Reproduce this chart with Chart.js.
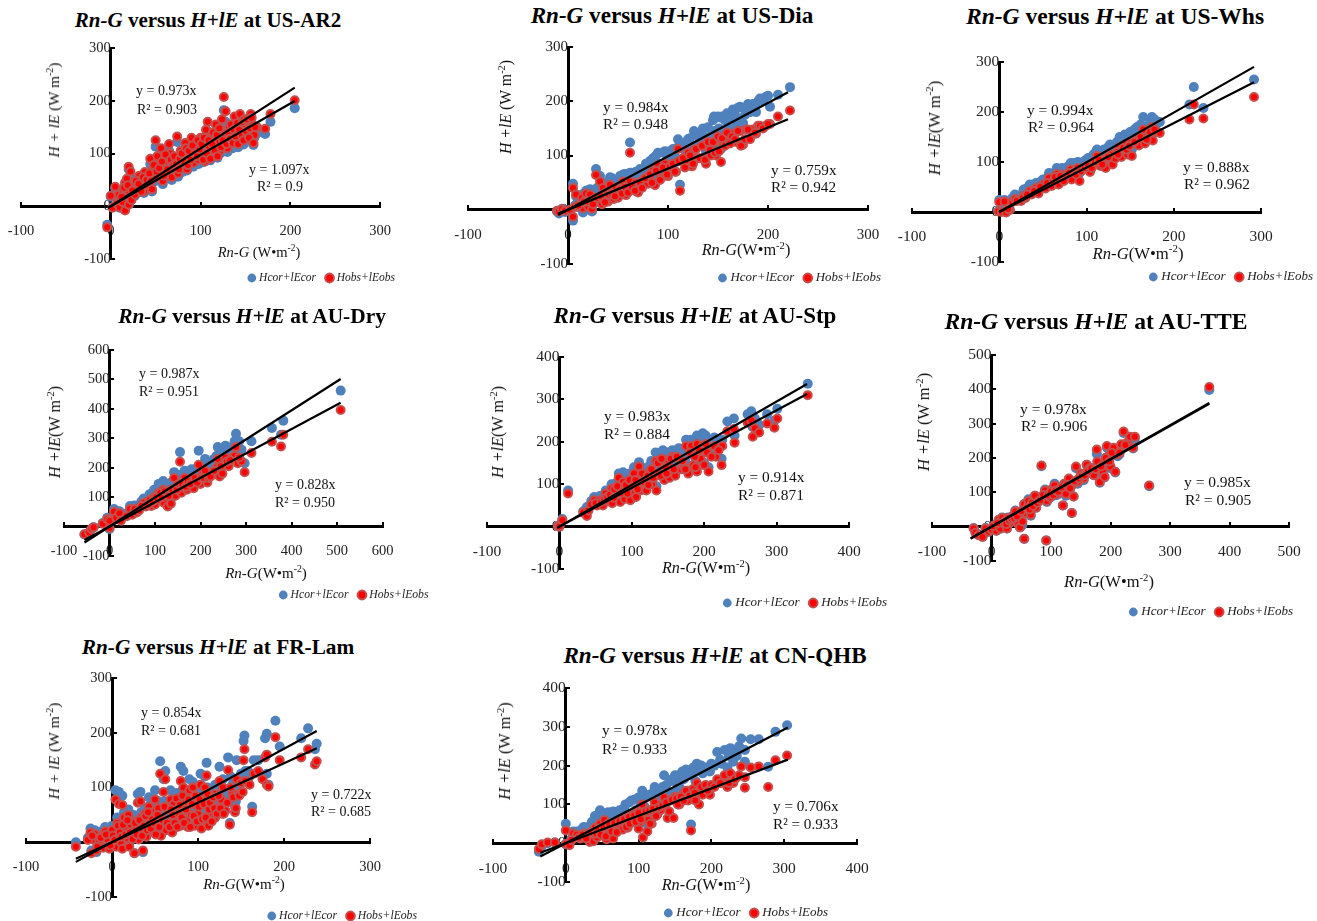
<!DOCTYPE html>
<html><head><meta charset="utf-8">
<script src="https://cdn.jsdelivr.net/npm/chart.js@4/dist/chart.umd.js"></script>
<style>
html,body{margin:0;padding:0;background:#fff;width:1317px;height:921px;overflow:hidden}
canvas{position:absolute;display:block}
.t{position:absolute;white-space:nowrap;font-family:"Liberation Serif",serif;color:#111;line-height:18px}
.title{font-weight:bold;color:#000;transform:translate(-50%,-50%);line-height:26px}
.ax{transform:translate(-50%,-50%)}
.ay{transform:translate(-50%,-50%) rotate(-90deg)}
.an{transform:translateY(-50%)}
sup{font-size:.65em;line-height:0}
</style></head><body>
<script>
const arX=[-4,0,2,5,7,9,10,13,14,16,16,18,20,20,20,22,23,25,27,30,32,35,37,38,42,44,46,47,50,50,52,53,56,58,60,62,65,66,68,72,74,75,78,80,83,85,88,90,92,95,98,100,102,105,106,108,110,112,115,117,120,122,124,126,128,127,130,132,135,138,140,144,145,150,153,156,158,160,163,172,178,205,
12,15,19,24,28,31,34,36,40,43,45,48,51,54,57,59,61,63,67,70,71,73,76,77,79,82,84,86,87,89,91,94,96,97,99,101,103,104,107,109,111,113,114,116,118,119,121,123,125,129,131,133,134,136,137,139,141,142,143,146,147,148,149,151,152,154,155,157,159,161];
const arCor=[-35,18,-2,34,4,20,-3,7,22,40,-6,48,70,27,4,60,12,40,20,31,52,42,25,58,33,80,28,62,113,48,85,70,100,42,75,54,105,90,50,75,122,56,92,65,106,68,84,118,75,105,80,116,90,85,130,142,100,115,95,138,107,100,150,182,160,120,103,133,112,150,125,155,117,135,127,158,140,130,138,137,160,186,
16,30,36,27,42,37,27,48,44,55,42,70,58,64,76,52,88,62,78,70,85,72,64,80,90,76,98,72,94,80,103,90,88,112,97,106,84,116,92,110,87,105,125,98,120,92,132,103,112,108,126,115,140,110,130,120,142,112,130,123,145,117,148,128,148,124,135,152,116,138];
const arObs=[-40,20,-3,37,5,22,-2,8,25,45,-8,52,75,30,3,66,12,44,22,35,58,48,28,65,40,90,32,70,125,55,95,78,110,48,85,62,118,100,55,85,132,62,105,72,120,70,95,130,82,120,88,130,100,85,145,160,112,130,98,155,120,105,165,207,180,135,110,150,125,170,140,175,128,150,140,175,155,135,150,147,175,201,
18,35,40,30,48,42,28,55,50,62,48,78,66,72,85,58,98,70,88,78,95,80,70,90,100,85,110,78,105,88,115,100,95,125,108,118,88,130,100,125,90,118,140,105,135,95,148,112,125,118,140,128,155,120,145,132,158,118,145,135,160,125,165,142,165,130,148,168,120,150];

const diaX=[-11,-9,-6,-3,2,5,5,7,8,10,12,14,15,18,20,22,24,26,28,30,32,34,35,38,40,42,46,48,50,55,58,62,62,66,68,70,75,78,80,85,87,90,93,97,100,103,108,110,112,113,118,120,124,126,130,135,138,142,146,148,152,153,155,160,165,168,172,175,178,185,188,190,198,202,210,222,
10,16,20,25,29,33,37,41,44,47,52,54,57,60,64,67,72,74,77,82,84,88,92,95,99,102,105,107,111,115,117,122,125,128,132,134,137,140,143,145,147,150,151,154,157,159,162,164,167,170,173,177,180,182,187,192,195,200];
const diaCor=[-3,-7,2,-4,-2,-20,48,8,25,5,12,28,-5,35,8,38,-3,30,75,22,62,12,50,45,20,60,28,55,30,65,35,124,68,50,70,40,72,85,60,95,62,105,72,108,82,100,88,130,46,115,100,130,98,145,120,150,108,135,172,120,170,112,140,150,185,155,190,160,185,195,180,200,208,190,212,226,
15,28,30,18,40,45,28,50,58,40,62,48,66,52,68,55,75,60,78,90,72,100,85,105,92,108,112,98,118,122,110,132,118,138,130,140,125,152,132,165,145,172,150,172,165,178,170,180,175,188,165,175,195,180,192,205,200,210];
const diaObs=[-2,-3,1,-2,0,-13,40,5,28,6,10,22,3,30,6,28,2,20,64,15,52,10,40,32,15,46,20,40,22,52,27,105,52,38,50,32,55,60,48,72,45,82,58,85,62,78,70,112,35,92,85,105,80,110,95,118,85,110,125,100,130,88,118,125,140,125,145,120,148,148,140,155,155,158,172,183,
8,15,15,10,22,25,14,28,30,25,38,30,42,32,42,35,50,40,58,65,50,72,55,78,65,80,85,70,90,95,78,100,85,112,95,118,92,125,100,125,105,135,108,132,118,142,122,135,130,145,118,130,148,130,142,155,150,158];

const whsX=[-1,0,3,6,8,12,15,18,22,25,28,30,35,37,42,45,50,53,57,60,66,68,72,76,82,83,90,92,96,100,104,108,112,116,120,122,127,130,133,138,140,144,147,150,152,158,160,165,167,171,175,176,180,184,218,223,234,292,
10,20,27,32,40,47,55,62,64,70,74,78,80,86,88,94,98,102,106,110,114,118,124,125,135,136,142,146,149,155,162,169,173,178];
const whsCor=[2,24,3,24,1,5,28,35,30,30,45,35,55,40,58,45,65,55,78,60,88,68,88,78,98,80,100,78,100,105,90,115,125,105,125,105,135,115,120,150,125,155,130,160,125,170,150,190,155,170,190,158,175,180,215,250,208,265,
8,30,38,48,50,60,68,75,80,85,82,90,92,98,95,98,102,108,105,118,120,118,125,130,140,138,150,150,155,165,175,170,180,185];
const whsObs=[1,20,0,21,-1,4,20,26,24,22,32,28,42,35,48,37,55,47,68,52,76,55,75,68,85,65,88,62,85,92,80,100,112,92,105,88,115,95,107,130,110,135,115,138,112,145,133,165,137,152,170,143,160,158,185,215,187,230,
6,22,28,35,42,50,58,62,70,72,62,75,78,80,75,82,88,92,88,100,105,95,108,110,120,115,128,125,132,140,150,145,160,165];

const dryX=[-55,-45,-40,-35,-15,-5,0,0,10,15,22,25,38,45,50,55,60,75,80,88,92,98,100,108,110,118,120,125,128,135,135,142,145,150,155,158,165,170,175,180,185,190,196,200,205,210,215,225,235,238,242,250,255,262,270,275,278,282,290,297,312,357,377,382,508,
65,70,85,95,103,112,115,122,130,138,148,153,160,168,172,178,188,193,202,208,218,222,230,245,248,258,265,285];
const dryCor=[-27,-20,-10,-2,12,30,-8,22,60,35,52,25,45,70,45,72,55,95,75,110,80,125,85,145,100,155,90,135,85,150,95,185,125,165,253,140,190,135,170,195,150,180,258,165,205,230,170,210,240,270,185,230,275,225,270,290,315,240,262,215,290,335,312,360,462,
70,85,95,105,125,140,120,145,130,150,150,175,170,160,180,170,195,175,190,195,200,205,230,245,210,255,250,290];
const dryObs=[-26,-20,-8,-3,10,25,-5,20,50,30,45,20,35,60,40,60,48,80,68,90,70,100,75,115,90,125,80,115,68,125,78,165,105,140,220,115,165,125,150,165,130,155,210,145,185,190,150,175,200,230,170,205,235,205,235,240,270,215,222,185,250,288,272,312,396,
55,70,75,85,100,115,100,120,105,125,125,145,145,135,155,145,165,150,165,165,165,170,190,205,180,220,225,235];

const stpX=[-2,0,4,12,33,38,40,48,52,56,60,64,68,72,73,78,82,84,88,90,95,98,100,103,106,110,112,118,120,125,128,133,134,138,143,145,150,152,156,160,165,168,172,175,178,182,185,190,190,195,198,200,204,206,214,216,224,225,232,241,242,260,265,267,270,276,287,297,301,343,
44,50,58,62,66,70,75,76,80,86,92,94,97,102,105,108,114,116,122,123,127,130,136,140,141,147,148,154,158,162,170,174,180,187,188,193,202,210,220];
const stpCor=[2,0,18,85,36,46,38,70,58,72,55,85,70,100,62,90,125,65,128,80,115,75,100,140,85,152,110,130,100,145,115,175,95,150,180,125,175,135,180,125,185,150,160,205,135,205,170,215,140,180,220,150,205,140,210,175,160,205,248,255,215,265,272,235,255,240,265,250,278,337,
60,62,65,75,78,85,80,100,105,95,115,90,125,110,125,100,140,120,135,110,155,130,170,135,175,160,140,175,150,180,175,155,195,190,150,205,215,180,195];
const stpObs=[1,0,15,78,33,25,38,62,50,62,50,78,60,90,55,75,115,58,105,65,95,62,85,125,70,142,85,120,85,130,100,155,85,125,158,110,150,115,165,120,160,135,140,190,125,190,145,195,130,160,190,145,175,130,190,165,145,190,225,230,198,245,250,212,232,222,243,233,255,310,
52,55,58,65,70,75,68,88,95,80,98,78,110,95,110,88,125,105,120,98,135,115,150,120,160,140,125,160,135,165,155,135,175,165,140,180,195,165,180];

const tteX=[-30,-27,-22,-15,-10,-5,0,5,8,12,15,18,20,26,28,32,36,40,45,48,48,52,55,55,58,62,66,68,73,75,80,84,90,92,93,98,102,106,110,115,120,122,125,130,135,135,138,142,145,150,155,160,165,172,177,180,182,187,190,194,196,200,205,208,212,218,222,228,233,238,241,265,366,
3,10,22,25,30,34,38,43,50,60,64,70,77,82,87,95,100,104,108,112,118,127,132,140,147,152,157,162,168,175,178,184,192,198,202,215,225];
const tteCor=[-4,-18,-22,-29,-4,-15,-6,4,-12,18,-6,27,8,-5,27,14,32,47,10,33,-2,5,-36,66,38,80,32,72,90,55,78,176,108,-40,72,84,108,125,92,112,62,120,90,138,40,122,88,170,125,150,135,180,165,150,212,180,128,155,143,230,200,170,225,158,205,235,273,240,258,228,255,118,398,
2,10,15,8,20,22,25,30,45,55,50,60,70,80,90,95,100,90,105,100,115,120,110,130,140,145,150,160,170,165,190,170,200,185,210,210,235];
const tteObs=[-5,-18,-25,-30,-5,-15,-8,3,-12,20,-5,25,10,-5,25,12,30,45,8,35,-2,15,-35,65,40,75,35,70,90,55,75,178,105,-40,75,85,110,120,95,110,62,125,95,140,40,120,88,175,130,155,140,180,170,150,225,185,130,160,145,235,205,175,230,160,210,240,277,245,262,230,262,120,407,
2,10,15,8,18,22,25,30,45,55,50,60,70,78,92,92,102,92,105,102,115,122,112,132,140,148,150,162,170,168,190,175,200,190,215,215,238];

const lamX=[-42,-25,-24,-22,-20,-18,-15,-12,-10,-8,-5,-3,0,2,4,5,6,8,8,10,12,12,14,15,17,19,20,22,23,25,26,28,30,31,33,34,36,36,38,40,43,44,46,48,50,52,54,56,57,58,60,62,63,65,66,68,70,72,74,77,80,80,83,85,87,88,90,92,94,96,98,100,103,104,106,108,110,112,115,117,120,120,123,125,127,128,132,135,137,140,143,145,147,150,153,154,158,163,165,170,175,178,180,180,182,190,195,220,228,236,238,
-28,-23,-17,-13,-7,-2,1,3,7,9,11,13,16,18,21,24,27,29,32,35,37,39,41,42,45,47,49,51,53,55,59,61,64,67,69,71,73,75,76,78,79,81,82,84,86,89,91,93,95,97,99,101,102,105,107,109,111,113,114,116,118,119,122,124,126,129,130,134,138,141,144,148,152,155,160];
const lamCor=[0,25,-15,10,22,-18,5,20,-5,28,10,-8,30,15,95,-5,45,92,25,5,85,-10,55,35,15,60,-5,40,20,50,-20,35,88,10,92,55,30,-18,60,15,82,45,25,65,95,38,75,148,20,55,115,130,30,70,45,95,25,85,55,70,138,40,130,85,50,32,115,65,110,40,80,60,125,30,95,120,145,35,75,60,105,50,75,138,95,55,75,155,35,105,65,150,110,125,185,195,130,65,150,150,120,190,198,125,105,222,175,190,208,170,180,
8,18,-6,12,20,-2,18,8,38,25,15,42,20,48,25,10,42,20,48,18,38,55,28,65,30,50,42,20,60,35,48,75,42,35,70,60,45,90,35,62,78,55,95,42,70,90,35,80,55,100,45,75,90,50,80,55,100,70,85,45,95,72,60,100,75,115,60,85,120,95,75,100,110,130,120];
const lamObs=[-8,18,-20,5,15,-15,0,12,-10,20,5,-12,22,10,78,-8,35,70,18,0,68,-12,45,28,8,50,-8,32,15,38,-20,28,72,5,75,45,22,-15,52,10,65,35,20,55,78,30,62,125,12,45,92,115,22,60,35,78,18,70,42,58,112,30,100,72,40,28,95,50,100,30,68,52,105,25,82,100,122,30,62,50,88,45,62,112,78,52,58,132,32,88,55,115,88,108,150,170,110,55,125,130,115,155,160,105,102,192,150,155,170,142,148,
4,12,-8,8,14,-6,12,4,30,18,10,32,14,40,18,6,35,14,40,12,30,48,22,55,25,42,35,14,50,28,40,65,35,28,60,50,35,80,28,52,68,45,85,35,60,78,28,70,48,85,38,65,78,42,70,45,88,60,72,38,82,62,52,85,62,100,52,72,100,82,62,85,92,112,105];

const qhbX=[-37,-33,-25,-15,0,0,5,10,15,20,25,30,33,36,38,40,43,47,50,53,56,58,62,65,68,72,76,78,82,85,90,92,98,100,102,105,106,108,112,113,118,122,126,130,135,137,140,144,148,150,156,160,165,168,172,175,180,183,186,192,198,200,208,214,218,222,226,230,235,241,246,246,254,265,278,288,304,
8,18,23,28,35,42,45,48,52,55,60,63,67,70,74,80,83,87,88,94,96,100,103,110,115,116,120,124,128,133,138,142,146,152,154,158,162,170,177,178,188,195,204,212,224,232,238];
const qhbCor=[-22,-8,0,2,50,-3,2,30,30,32,42,30,5,55,8,70,35,85,55,75,15,80,40,82,55,70,85,45,100,60,110,75,115,45,85,135,55,95,50,120,75,145,100,125,175,130,110,160,130,175,145,185,190,135,48,195,205,130,200,195,185,205,235,205,240,195,245,210,225,270,210,240,268,268,197,287,304,
12,25,38,20,50,45,65,40,70,35,75,50,78,45,85,90,70,105,75,112,85,118,95,120,125,80,130,105,135,145,150,125,165,170,150,178,165,175,185,160,180,190,200,215,225,235,250];
const qhbObs=[-15,-3,2,2,33,-2,-5,25,22,12,25,15,3,30,5,40,15,50,20,60,10,50,20,12,30,50,60,35,60,40,72,60,80,38,55,100,15,70,30,60,50,105,75,85,118,100,65,110,65,120,100,125,135,110,33,140,155,100,145,150,125,150,165,155,175,145,180,155,170,198,143,170,195,198,145,214,226,
8,15,22,12,28,25,38,22,42,18,48,30,52,28,58,62,42,68,50,72,55,78,62,82,85,50,88,70,92,98,105,82,112,115,100,120,110,122,130,110,125,135,145,155,155,165,175];

const coords={
 ar:{x:arX,cor:arCor,obs:arObs},dia:{x:diaX,cor:diaCor,obs:diaObs},whs:{x:whsX,cor:whsCor,obs:whsObs},dry:{x:dryX,cor:dryCor,obs:dryObs},
 stp:{x:stpX,cor:stpCor,obs:stpObs},tte:{x:tteX,cor:tteCor,obs:tteObs},lam:{x:lamX,cor:lamCor,obs:lamObs},qhb:{x:qhbX,cor:qhbCor,obs:qhbObs}
};
const seriesNames=['Hcor+lEcor','Hobs+lEobs'];
const sites=['US-AR2','US-Dia','US-Whs','AU-Dry','AU-Stp','AU-TTE','FR-Lam','CN-QHB'];
const keys=['ar','dia','whs','dry','stp','tte','lam','qhb'];
const xLimits=[[-100,300],[-100,300],[-100,300],[-100,600],[-100,400],[-100,500],[-100,300],[-100,400]];
const yLimits=[[-100,300],[-100,300],[-100,300],[-100,600],[-100,400],[-100,500],[-100,300],[-100,400]];
const slopesA=[0.973,0.984,0.994,0.987,0.983,0.978,0.854,0.978];
const slopesB=[1.097,0.759,0.888,0.828,0.914,0.985,0.722,0.706];
const r2A=['0.903','0.948','0.964','0.951','0.884','0.906','0.681','0.933'];
const r2B=['0.9','0.942','0.962','0.950','0.871','0.905','0.685','0.933'];
const lineSpan=[[-3,205],[-10,220],[0,292],[-55,508],[-3,342],[-35,366],[-42,238],[-35,305]];

// page layout: plot box [left,right,top,bottom]
const boxes=[[21,380,48,259],[468,868,47,264],[912,1261,62,262],[63.5,382,350,556],[487,849,357,569],[932,1289,355,561],[26,370,678,897],[493,857,688,882]];
const legendAt=[[395,277],[881,277],[1313,276],[428,594],[887,602],[1293,611],[417,915],[828,912]];
const titleAt=[[208,20],[672,15],[1115,16],[252,316],[695,316],[1096,321],[218,647],[715,655]];
const titleSize=[21,23.1,23.5,21.4,23,23.6,21.3,23.1];
const legendSize=[11.5,12.9,13,11.7,13,13,11.7,13];
const noteSize=[14,15.2,15.4,14,15.4,15.5,14,15.2];
const tickSize=[14.5,15,15.5,14.5,15.5,15.5,14.5,15.5];
const xTitleSize=[14.5,16.3,16.7,15,16.2,16.5,15,16.3];
const yTitleSize=[15.3,15.8,16.6,16.2,16.2,16.5,15.6,16.4];
const yTitleAt=[[54,110],[506,107],[935,128],[55,432],[498,432],[924,422],[54,751],[505,751]];
const xTitleAt=[[259,252],[746,250],[1138,254],[266,573],[706,568],[1109,582],[244,884],[706,885]];
const yTitleLead=['H + lE','H +lE','H +lE','H +lE','H +lE','H +lE','H + lE','H +lE'];
const yTitleGap=[' ',' ','','','',' ',' ',' '];
const xTitleGap=[' ','','','','','','',''];
const noteA=[[136,91,137,110],[603,107,603,124],[1027,110,1028,127],[139,374,139,392],[604,416,604,434],[1020,409,1021,426],[141,713,141,731],[602,730,602,749]];
const noteB=[[249,170,257,187],[771,170,771,187],[1183,167,1184,184],[275,485,275,503],[738,477,738,495],[1184,482,1185,500],[311,795,311,812],[773,806,773,824]];

function addText(cls,x,y,html,size){
  const d=document.createElement('div');d.className='t '+cls;d.style.left=x+'px';d.style.top=y+'px';
  if(size)d.style.fontSize=size+'px';d.innerHTML=html;document.body.appendChild(d);
}
const legendMover={id:'legendMover',afterLayout(chart){
  const o=chart.$place,l=chart.legend;if(!o||!l)return;
  const h=l.height;
  l.left=0;l.right=o.legendRight+12;l.width=l.right;
  l.top=o.legendCy-h/2;l.bottom=l.top+h;
}};
const noScalePadding=s=>{s.paddingLeft=s.paddingRight=s.paddingTop=s.paddingBottom=0;};
const fontFamily='"Liberation Serif",serif';
keys.forEach((k,i)=>{
  const [l,r,t,b]=boxes[i],[lr,lc]=legendAt[i];
  const pl=45,pt=15;
  const W=Math.ceil(Math.max(r+15,lr+4)-l+pl),H=Math.ceil(Math.max(b-t+pt+50,lc-t+pt+16));
  const c=document.createElement('canvas');c.width=W;c.height=H;
  c.style.left=(l-pl)+'px';c.style.top=(t-pt)+'px';document.body.appendChild(c);
  const d=coords[k];
  const pts=ys=>d.x.map((x,j)=>({x,y:ys[j]}));
  const line=s=>lineSpan[i].map(x=>({x,y:s*x}));
  const axis=(lim,pos)=>({type:'linear',min:lim[0],max:lim[1],position:pos,afterFit:noScalePadding,
    border:{display:true,color:'#000',width:3},
    grid:{drawOnChartArea:false,drawTicks:true,color:'#000',lineWidth:2,tickLength:-6},
    ticks:{stepSize:100,autoSkip:false,maxRotation:0,color:'#222',font:{family:fontFamily,size:tickSize[i]},padding:pos.y===0?22:20}});
  const ch=new Chart(c,{
    type:'scatter',
    plugins:[legendMover],
    data:{datasets:[
      {label:seriesNames[0],data:pts(d.cor),order:3,backgroundColor:'#4F81BD',borderColor:'#4F81BD',borderWidth:0,pointRadius:5},
      {label:seriesNames[1],data:pts(d.obs),order:2,backgroundColor:'#FF0000',borderColor:'#C4504E',borderWidth:2,pointRadius:4},
      {label:'trendA',data:line(slopesA[i]),order:1,showLine:true,borderColor:'#000',borderWidth:2.2,pointRadius:0,fill:false},
      {label:'trendB',data:line(slopesB[i]),order:1,showLine:true,borderColor:'#000',borderWidth:2.2,pointRadius:0,fill:false}
    ]},
    options:{responsive:false,animation:false,devicePixelRatio:1,
      layout:{autoPadding:false,padding:{left:pl,top:pt,right:W-pl-(r-l),bottom:0}},
      scales:{x:axis(xLimits[i],{y:0}),y:axis(yLimits[i],{x:0})},
      plugins:{title:{display:false},tooltip:{enabled:false},
        legend:{display:true,position:'bottom',align:'end',
          labels:{usePointStyle:true,pointStyle:'circle',boxHeight:6.2,boxWidth:3,padding:12,color:'#222',
            font:{family:fontFamily,size:legendSize[i],style:'italic'},
            filter:it=>it.datasetIndex<2,sort:(a,b)=>a.datasetIndex-b.datasetIndex}}}
    }
  });
  ch.$place={legendRight:lr-(l-pl),legendCy:lc-(t-pt)};
  ch.config.options.layout.padding.bottom=H-ch.legend.height-pt-(b-t);
  ch.update('none');

  addText('title',titleAt[i][0],titleAt[i][1],`<i>Rn-G</i> versus <i>H+lE</i> at ${sites[i]}`,titleSize[i]);
  addText('ay',yTitleAt[i][0],yTitleAt[i][1],`<i>${yTitleLead[i]}</i>${yTitleGap[i]}(W m<sup>-2</sup>)`,yTitleSize[i]);
  addText('ax',xTitleAt[i][0],xTitleAt[i][1],`<i>Rn-G</i>${xTitleGap[i]}(W•m<sup>-2</sup>)`,xTitleSize[i]);
  const [ax,ay,arx,ary]=noteA[i],[bx,by,brx,bry]=noteB[i];
  addText('an',ax,ay,`y = ${slopesA[i].toFixed(3)}x`,noteSize[i]);
  addText('an',arx,ary,`R² = ${r2A[i]}`,noteSize[i]);
  addText('an',bx,by,`y = ${slopesB[i].toFixed(3)}x`,noteSize[i]);
  addText('an',brx,bry,`R² = ${r2B[i]}`,noteSize[i]);
});
</script>
</body></html>
